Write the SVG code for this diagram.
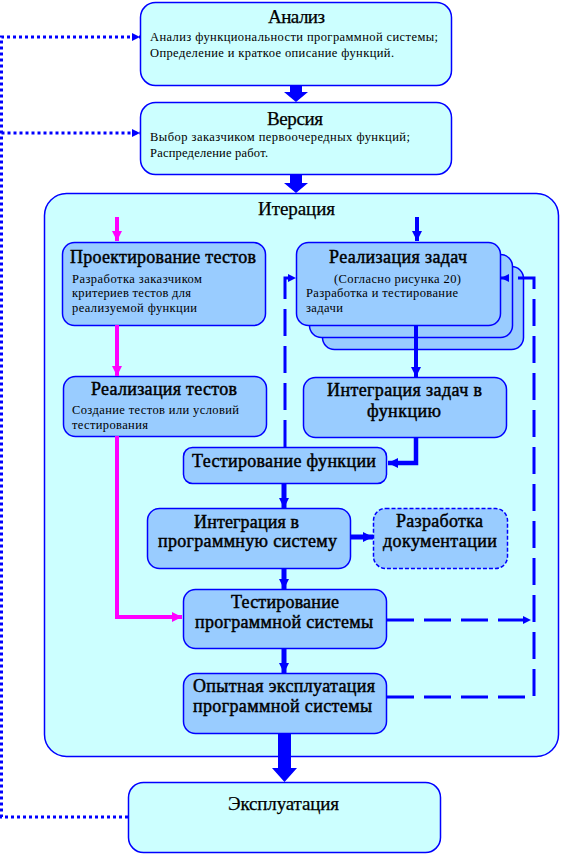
<svg xmlns="http://www.w3.org/2000/svg" width="561" height="854" viewBox="0 0 561 854">
<style>
.outer{fill:#ccffff;stroke:#0000ff;stroke-width:1.5}
.inner{fill:#99ccff;stroke:#0000ff;stroke-width:1.5}
.t{font-family:"Liberation Serif","Times New Roman",serif;fill:#000}
.h{font-size:19px;stroke:#000;stroke-width:0.25}
.hb{font-size:18px;stroke:#000;stroke-width:0.45}
.b{font-size:12.5px}
.blue{stroke:#0000ff;fill:none}
.mag{stroke:#ff00ff;fill:none;stroke-width:4}
.dash{stroke:#0000ff;fill:none;stroke-width:3;stroke-dasharray:27 10}
.dot{stroke:#0000ff;fill:none;stroke-width:3;stroke-dasharray:3 3}
.blk{fill:#0000ff}
</style>
<defs>
<marker id="ab" viewBox="0 0 10 10" refX="10" refY="5" markerWidth="10" markerHeight="10" markerUnits="userSpaceOnUse" orient="auto"><path d="M0,0 L10,5 L0,10 z" fill="#0000ff"/></marker>
<marker id="am" viewBox="0 0 10 10" refX="10" refY="5" markerWidth="10" markerHeight="10" markerUnits="userSpaceOnUse" orient="auto"><path d="M0,0 L10,5 L0,10 z" fill="#ff00ff"/></marker>
<marker id="ad" viewBox="0 0 10 10" refX="10" refY="5" markerWidth="8" markerHeight="8" markerUnits="userSpaceOnUse" orient="auto"><path d="M0,0 L10,5 L0,10 z" fill="#0000ff"/></marker>
</defs>

<g id="iteration">
<rect class="outer" x="44.5" y="193.5" width="514" height="563" rx="22"/>
<text class="t h" x="258" y="215" textLength="77">Итерация</text>
</g>

<g id="analysis">
<rect class="outer" x="140.5" y="2.5" width="311" height="83" rx="15"/>
<text class="t h" x="268" y="23" textLength="57">Анализ</text>
<text class="t b" x="150" y="41" textLength="288">Анализ функциональности программной системы;</text>
<text class="t b" x="150" y="57" textLength="244">Определение и краткое описание функций.</text>
</g>

<g id="version">
<rect class="outer" x="140.5" y="102.5" width="311" height="72" rx="15"/>
<text class="t h" x="267" y="125" textLength="56">Версия</text>
<text class="t b" x="150" y="141" textLength="260">Выбор заказчиком первоочередных функций;</text>
<text class="t b" x="150" y="157" textLength="118">Распределение работ.</text>
</g>

<g id="test-design">
<rect class="inner" x="62.5" y="242.5" width="203" height="83" rx="12"/>
<text class="t hb" x="70" y="263" textLength="186">Проектирование тестов</text>
<text class="t b" x="72" y="283" textLength="130">Разработка заказчиком</text>
<text class="t b" x="72" y="297" textLength="119">критериев тестов для</text>
<text class="t b" x="72" y="312" textLength="125">реализуемой функции</text>
</g>

<g id="task-impl">
<rect class="inner" x="322.5" y="266.5" width="201" height="83" rx="12"/>
<rect class="inner" x="309.5" y="254.5" width="203" height="83" rx="12"/>
<rect class="inner" x="296.5" y="242.5" width="204" height="83" rx="12"/>
<text class="t hb" x="329" y="263" textLength="138">Реализация задач</text>
<text class="t b" x="334" y="283" textLength="127">(Согласно рисунка 20)</text>
<text class="t b" x="306" y="297" textLength="152">Разработка и тестирование</text>
<text class="t b" x="306" y="312" textLength="37">задачи</text>
</g>

<g id="test-impl">
<rect class="inner" x="63.5" y="376.5" width="203" height="60" rx="12"/>
<text class="t hb" x="91" y="395" textLength="146">Реализация тестов</text>
<text class="t b" x="72" y="414" textLength="167">Создание тестов или условий</text>
<text class="t b" x="72" y="429" textLength="76">тестирования</text>
</g>

<g id="task-integration">
<rect class="inner" x="303.5" y="377.5" width="203" height="60" rx="12"/>
<text class="t hb" x="327" y="396" textLength="155">Интеграция задач в</text>
<text class="t hb" x="367" y="417" textLength="74">функцию</text>
</g>

<g id="function-test">
<rect class="inner" x="183.5" y="447.5" width="203" height="36" rx="9"/>
<text class="t hb" x="192" y="467" textLength="184">Тестирование функции</text>
</g>

<g id="system-integration">
<rect class="inner" x="147.5" y="508.5" width="203" height="60" rx="12"/>
<text class="t hb" x="194" y="528" textLength="105">Интеграция в</text>
<text class="t hb" x="158" y="547" textLength="179">программную систему</text>
</g>

<g id="documentation">
<rect class="inner" x="373.5" y="508.5" width="134" height="60" rx="12" stroke-dasharray="4 2"/>
<text class="t hb" x="396" y="527" textLength="87">Разработка</text>
<text class="t hb" x="383" y="547" textLength="114">документации</text>
</g>

<g id="system-test">
<rect class="inner" x="183.5" y="589.5" width="203" height="59" rx="12"/>
<text class="t hb" x="231" y="608" textLength="108">Тестирование</text>
<text class="t hb" x="195" y="628" textLength="178">программной системы</text>
</g>

<g id="trial-operation">
<rect class="inner" x="183.5" y="673.5" width="203" height="60" rx="12"/>
<text class="t hb" x="193" y="692" textLength="182">Опытная эксплуатация</text>
<text class="t hb" x="193" y="712" textLength="179">программной системы</text>
</g>

<g id="operation">
<rect class="outer" x="128.5" y="782.5" width="312" height="70" rx="15"/>
<text class="t h" x="228" y="810" textLength="111">Эксплуатация</text>
</g>

<g id="connectors">
<polygon class="blk" points="290,85 302,85 302,92 308,92 296,102 284,92 290,92"/>
<polygon class="blk" points="290,174 302,174 302,183 308,183 296,193 284,183 290,183"/>
<polygon class="blk" points="278,733 291,733 291,768 297,768 284.5,782 272,768 278,768"/>

<path class="mag" d="M117,217 V241" marker-end="url(#am)"/>
<path class="mag" d="M117,325 V376" marker-end="url(#am)"/>
<path class="mag" d="M117,436 V617 H182" marker-end="url(#am)"/>

<path class="blue" stroke-width="4" d="M417,217 V241" marker-end="url(#ab)"/>
<path class="blue" stroke-width="4" d="M416,325 V377" marker-end="url(#ab)"/>
<path class="blue" stroke-width="4.5" d="M416,437 V463 H388" marker-end="url(#ab)"/>
<path class="blue" stroke-width="5" d="M284,483 V508" marker-end="url(#ab)"/>
<path class="blue" stroke-width="5" d="M351,537 H373" marker-end="url(#ab)"/>
<path class="blue" stroke-width="5" d="M284,568 V589" marker-end="url(#ab)"/>
<path class="blue" stroke-width="5" d="M284,648 V673" marker-end="url(#ab)"/>

<path class="dash" d="M285,447 V278 H296" marker-end="url(#ad)"/>
<path class="dash" d="M387,697 H534 V278 H501" marker-end="url(#ad)"/>
<path class="dash" d="M387,620 H531" marker-end="url(#ad)"/>

<path class="dot" d="M128,817 H1.5 V37 H140" marker-end="url(#ad)"/>
<path class="dot" d="M1.5,133 H140" marker-end="url(#ad)"/>
</g>
</svg>
